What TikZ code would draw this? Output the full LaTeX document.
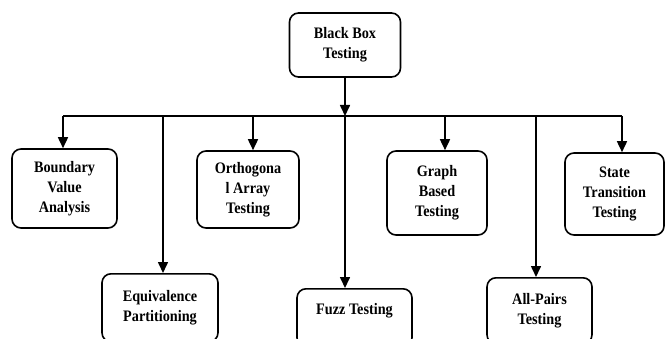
\documentclass[tikz,border=0pt]{standalone}
\usepackage{fontspec}
\setmainfont{Liberation Serif}[FakeStretch=0.89]
\usetikzlibrary{arrows.meta}

\begin{document}
\begin{tikzpicture}[x=1pt,y=-1pt,>={Triangle[length=11pt,width=10pt]},line width=1.6pt,
  test box/.style={draw,rounded corners=9pt,align=center,inner sep=2pt,
    font=\fontsize{16}{20}\selectfont\bfseries}]
  \useasboundingbox (0,0) rectangle (666,339);

  \node[test box,minimum width=111pt,minimum height=64pt] (root) at (345,45) {Black Box\\Testing};

  % first row
  \node[test box,minimum width=105pt,minimum height=79pt] (bva) at (64.5,188.5) {Boundary\\Value\\Analysis};
  \node[test box,minimum width=102pt,minimum height=77pt] (oat) at (248,189.5) {Orthogona\\l Array\\Testing};
  \node[test box,minimum width=100pt,minimum height=84pt] (gbt) at (437,193) {Graph\\Based\\Testing};
  \node[test box,minimum width=99pt,minimum height=82pt] (stt) at (614.5,194) {State\\Transition\\Testing};

  % second row
  \node[test box,anchor=north,minimum width=116pt,minimum height=68pt] (ep) at (160,273) {Equivalence\\Partitioning};
  \node[test box,anchor=north,minimum width=115pt,inner ysep=7pt,text height=19pt,text depth=25pt] (fuzz) at (354.5,288) {Fuzz Testing};
  \node[test box,anchor=north,minimum width=105pt,minimum height=66pt] (apt) at (539.5,277) {All-Pairs\\Testing};

  % bus
  \coordinate (b0) at (63,116);
  \coordinate (b1) at (163,116);
  \coordinate (b2) at (253,116);
  \coordinate (b3) at (root.south |- b0);
  \coordinate (b4) at (445,116);
  \coordinate (b5) at (536,116);
  \coordinate (b6) at (622,116);

  \draw[->] (root) -- (b3);
  \draw (b0) -- (b6);
  \draw[->] (b0) -- (b0 |- bva.north);
  \draw[->] (b1) -- (b1 |- ep.north);
  \draw[->] (b2) -- (b2 |- oat.north);
  \draw[->] (b3) -- (b3 |- fuzz.north);
  \draw[->] (b4) -- (b4 |- gbt.north);
  \draw[->] (b5) -- (b5 |- apt.north);
  \draw[->] (b6) -- (b6 |- stt.north);
\end{tikzpicture}
\end{document}
